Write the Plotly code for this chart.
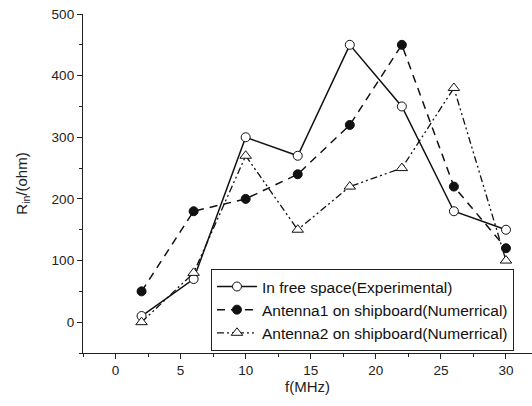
import plotly.graph_objects as go

freq = [2, 6, 10, 14, 18, 22, 26, 30]
free_space = [10, 70, 300, 270, 450, 350, 180, 150]
antenna1 = [50, 180, 200, 240, 320, 450, 220, 120]
antenna2 = [0, 80, 270, 150, 220, 250, 380, 100]
names = ["In free space(Experimental)",
         "Antenna1 on shipboard(Numerrical)",
         "Antenna2 on shipboard(Numerrical)"]

fig = go.Figure()
fig.add_trace(go.Scatter(x=freq, y=free_space, name=names[0], mode="lines+markers",
                         line=dict(color="#111", width=1.5, dash="solid"),
                         marker=dict(symbol="circle", size=9, color="white",
                                     line=dict(color="#111", width=1))))
fig.add_trace(go.Scatter(x=freq, y=antenna1, name=names[1], mode="lines+markers",
                         line=dict(color="#111", width=1.5, dash="8px,6px"),
                         marker=dict(symbol="circle", size=9, color="#111",
                                     line=dict(color="#111", width=1))))
fig.add_trace(go.Scatter(x=freq, y=antenna2, name=names[2], mode="lines+markers",
                         line=dict(color="#111", width=1.3, dash="7px,3px,2px,3px,2px,3px"),
                         marker=dict(symbol="triangle-up", size=10, color="white",
                                     line=dict(color="#111", width=1))))

font_family = "Liberation Sans, Arial"
axis_common = dict(showgrid=False, zeroline=False, showline=True, linecolor="#222",
                   linewidth=1.3, ticks="outside", ticklen=5, tickwidth=1.2, tickcolor="#222",
                   tickfont=dict(family=font_family, size=13.5, color="#222"))

fig.update_layout(
    width=532, height=406,
    margin=dict(l=83, r=0, t=14, b=53),
    paper_bgcolor="white", plot_bgcolor="white",
    xaxis=dict(range=[-2.5, 32], tickvals=[0, 5, 10, 15, 20, 25, 30],
               minor=dict(ticks="outside", ticklen=3, tickcolor="#222", dtick=2.5, tick0=0),
               title=dict(text="f(MHz)", standoff=4,
                          font=dict(family=font_family, size=15, color="#222")),
               **axis_common),
    yaxis=dict(range=[-50, 500], tickvals=[0, 100, 200, 300, 400, 500],
               minor=dict(ticks="outside", ticklen=3, tickcolor="#222", dtick=50, tick0=0),
               title=dict(text="R<sub>in</sub>/(ohm)", standoff=20,
                          font=dict(family=font_family, size=15, color="#222")),
               **axis_common),
    legend=dict(x=0.285, y=0.248, xanchor="left", yanchor="top",
                bordercolor="#222", borderwidth=1, bgcolor="white",
                font=dict(family=font_family, size=15.5, color="#111"),
                tracegroupgap=0, itemwidth=40),
    showlegend=True,
)
fig.write_html("out.html", config={"displayModeBar": False},
               post_script="document.body.style.margin='0';document.body.style.padding='0';")
